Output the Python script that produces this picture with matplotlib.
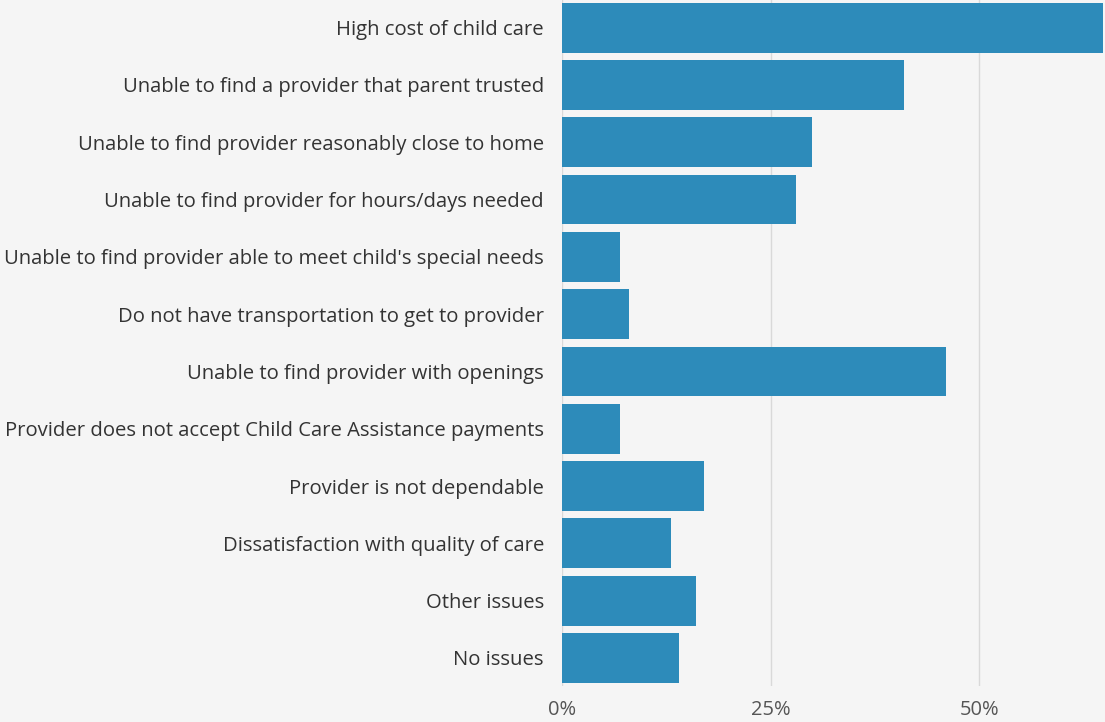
import matplotlib
matplotlib.use("Agg")
import matplotlib.pyplot as plt
from matplotlib.ticker import FuncFormatter

# ── Data ──────────────────────────────────────────────
reasons = [
    "High cost of child care",
    "Unable to find a provider that parent trusted",
    "Unable to find provider reasonably close to home",
    "Unable to find provider for hours/days needed",
    "Unable to find provider able to meet child's special needs",
    "Do not have transportation to get to provider",
    "Unable to find provider with openings",
    "Provider does not accept Child Care Assistance payments",
    "Provider is not dependable",
    "Dissatisfaction with quality of care",
    "Other issues",
    "No issues",
]
percent = [65, 41, 30, 28, 7, 8, 46, 7, 17, 13, 16, 14]
x_ticks = [0, 25, 50]

BG = "#f5f5f5"
BAR = "#2d8bba"

plt.rcParams["font.family"] = ["Open Sans", "DejaVu Sans"]

fig = plt.figure(figsize=(11.05, 7.22), dpi=100, facecolor=BG)
ax = fig.add_axes([562 / 1105, 1 - 686 / 722, (1103 - 562) / 1105, 686 / 722])
ax.set_facecolor(BG)

ypos = list(range(len(reasons)))
ax.barh(ypos, percent, height=0.87, color=BAR, zorder=3)

ax.set_xlim(0, 64.8)
ax.set_ylim(11.49, -0.483)
ax.set_yticks(ypos)
ax.set_yticklabels(reasons, fontsize=14.6, color="#333333")
ax.set_xticks(x_ticks)
ax.xaxis.set_major_formatter(FuncFormatter(lambda v, _: f"{v:.0f}%"))
ax.tick_params(axis="x", length=0, pad=10, labelsize=14.5, labelcolor="#555555")
ax.tick_params(axis="y", length=0, pad=13)
ax.grid(axis="x", color="#d9d9d9", linewidth=1, zorder=0)
for s in ax.spines.values():
    s.set_visible(False)

fig.savefig("out.png", dpi=100, facecolor=BG)
